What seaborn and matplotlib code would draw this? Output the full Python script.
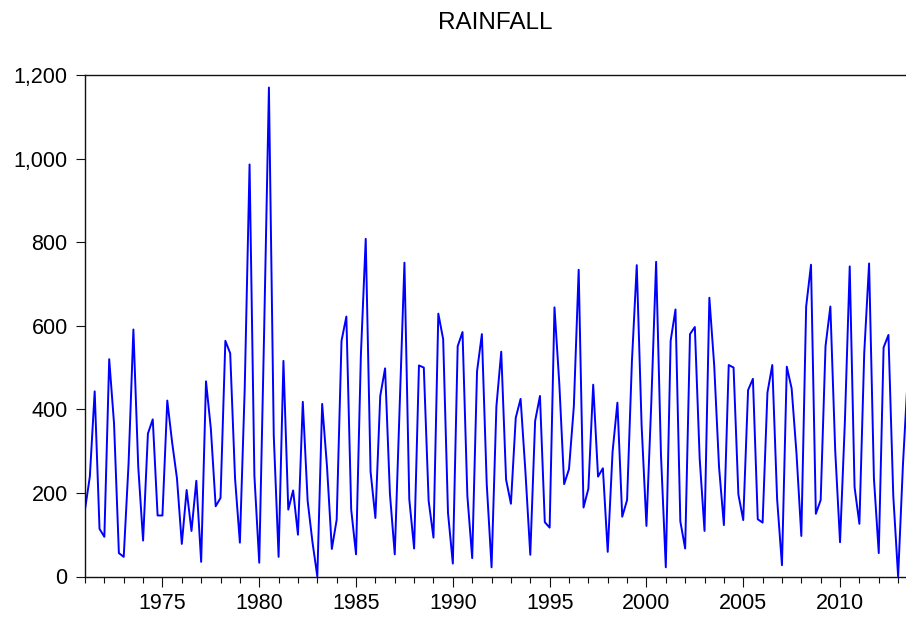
import numpy as np
import pandas as pd
import seaborn as sns
import matplotlib.pyplot as plt
from matplotlib.ticker import FuncFormatter, MultipleLocator

sns.set_theme(style="ticks")
plt.rcParams['font.family'] = ['Liberation Sans', 'DejaVu Sans']
plt.rcParams['text.color'] = 'black'
plt.rcParams['xtick.color'] = 'black'
plt.rcParams['ytick.color'] = 'black'

# quarterly rainfall, 1971Q1 .. 2013Q3
first_year = 1971
rain = [
    160, 239, 443, 114,   # 1971
    95, 520, 366, 56,     # 1972
    47, 270, 591, 263,    # 1973
    86, 342, 376, 146,    # 1974
    146, 421, 321, 235,   # 1975
    78, 207, 109, 229,    # 1976
    35, 467, 354, 168,    # 1977
    188, 564, 534, 235,   # 1978
    81, 450, 986, 241,    # 1979
    33, 580, 1170, 337,   # 1980
    47, 516, 160, 206,    # 1981
    100, 418, 181, 82,    # 1982
    0, 413, 263, 66,      # 1983
    136, 564, 622, 160,   # 1984
    53, 530, 808, 251,    # 1985
    140, 432, 498, 198,   # 1986
    53, 400, 751, 185,    # 1987
    67, 505, 500, 181,    # 1988
    93, 629, 568, 152,    # 1989
    31, 551, 585, 193,    # 1990
    44, 491, 580, 222,    # 1991
    22, 407, 538, 232,    # 1992
    174, 380, 425, 250,   # 1993
    52, 372, 432, 130,    # 1994
    117, 644, 461, 221,   # 1995
    257, 407, 734, 165,   # 1996
    210, 459, 239, 259,   # 1997
    59, 298, 416, 143,    # 1998
    183, 515, 745, 362,   # 1999
    121, 415, 753, 292,   # 2000
    22, 564, 639, 132,    # 2001
    67, 580, 597, 282,    # 2002
    109, 667, 505, 262,   # 2003
    123, 506, 500, 196,   # 2004
    135, 446, 473, 137,   # 2005
    129, 440, 506, 185,   # 2006
    27, 502, 450, 295,    # 2007
    97, 646, 746, 150,    # 2008
    183, 551, 646, 302,   # 2009
    82, 370, 742, 214,    # 2010
    126, 535, 749, 235,   # 2011
    56, 548, 578, 193,    # 2012
    0, 268, 480,          # 2013
]

df = pd.DataFrame({"t": first_year + np.arange(len(rain)) / 4, "rain": rain})

fig = plt.figure(figsize=(9.06, 6.19), dpi=100)
ax = fig.add_axes([85 / 906, 1 - 576.5 / 619, 821 / 906, 501.5 / 619])

sns.lineplot(data=df, x="t", y="rain", ax=ax, color="#0000ff", linewidth=1.4)

ax.set_xlim(1971, 1971 + 821 / 19.36)
ax.set_ylim(0, 1200)
ax.xaxis.set_major_locator(MultipleLocator(5))
ax.xaxis.set_minor_locator(MultipleLocator(1))
ax.yaxis.set_major_locator(MultipleLocator(200))
ax.xaxis.set_major_formatter(FuncFormatter(lambda v, p: f"{int(round(v))}"))
ax.yaxis.set_major_formatter(FuncFormatter(lambda v, p: f"{int(v):,}"))

ax.tick_params(axis="x", which="major", length=7, width=0.8, labelsize=15.5, pad=5,
               color="#111111", labelcolor="black")
ax.tick_params(axis="x", which="minor", length=4.3, width=0.8, color="#111111")
ax.tick_params(axis="y", which="major", length=6.5, width=0.8, labelsize=15.5, pad=6,
               color="#111111", labelcolor="black")

for side in ["left", "top", "bottom"]:
    ax.spines[side].set_color("#111111")
    ax.spines[side].set_linewidth(1.0)
ax.spines["right"].set_visible(False)

ax.set_xlabel("")
ax.set_ylabel("")
ax.set_title("RAINFALL", fontsize=17.5, pad=33, color="black")

fig.savefig("out.png", dpi=100)
